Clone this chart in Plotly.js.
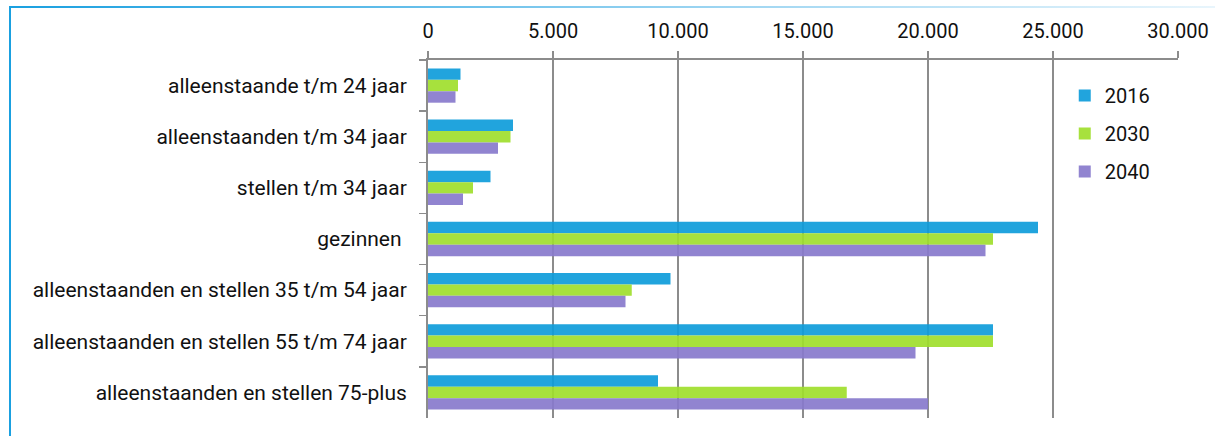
<!DOCTYPE html>
<html>
<head>
<meta charset="utf-8">
<script src="https://cdn.plot.ly/plotly-3.0.1.min.js"></script>
<style>
  html, body { margin: 0; padding: 0; background: #ffffff; }
  #wrap { position: relative; width: 1215px; height: 436px; overflow: hidden; background: #fff; }
  #frameLeft { position: absolute; left: 9px; top: 6px; width: 2px; height: 430px; background: #1aa0e0; }
  #frameTop { position: absolute; left: 9px; top: 6px; width: 1206px; height: 2px;
              background: linear-gradient(to right, #1aa0e0, #9fd6f2 60%, #e8f5fc); }
  #chart { position: absolute; left: 0; top: 0; width: 1215px; height: 436px; }
</style>
</head>
<body>
<div id="wrap">
  <div id="frameLeft"></div>
  <div id="frameTop"></div>
  <div id="chart"></div>
</div>
<script>
const categories = [
  'alleenstaande t/m 24 jaar',
  'alleenstaanden t/m 34 jaar',
  'stellen t/m 34 jaar',
  'gezinnen ',
  'alleenstaanden en stellen 35 t/m 54 jaar',
  'alleenstaanden en stellen 55 t/m 74 jaar',
  'alleenstaanden en stellen 75-plus'
];
const seriesNames = ['2016', '2030', '2040'];
const values2016 = [1300, 3400, 2500, 24400, 9700, 22600, 9200];
const values2030 = [1200, 3300, 1800, 22600, 8150, 22600, 16750];
const values2040 = [1100, 2800, 1400, 22300, 7900, 19500, 20000];
const xTicks = [0, 5000, 10000, 15000, 20000, 25000, 30000];

const colors = ['rgba(14,156,218,0.92)', 'rgba(160,222,44,0.92)', 'rgba(136,122,204,0.92)'];
const allValues = [values2016, values2030, values2040];

const FONT = 'Roboto, "Liberation Sans", Arial, sans-serif';

const traces = allValues.map((vals, i) => ({
  type: 'bar',
  orientation: 'h',
  name: seriesNames[i],
  legendgroup: 'g' + i,
  x: vals,
  y: categories,
  marker: { color: colors[i], line: { width: 0 } },
  hoverinfo: 'x+y+name'
}));

const layout = {
  width: 1215,
  height: 436,
  paper_bgcolor: 'rgba(0,0,0,0)',
  plot_bgcolor: 'rgba(0,0,0,0)',
  margin: { l: 428, r: 37, t: 60, b: 18, pad: 0 },
  separators: ',.',
  barmode: 'group',
  bargap: 0.33,
  bargroupgap: 0,
  font: { family: FONT, size: 19, color: '#111111' },
  showlegend: true,
  legend: {
    x: 0.849, xanchor: 'left',
    y: 0.955, yanchor: 'top',
    bgcolor: 'rgba(255,255,255,0)',
    borderwidth: 0,
    traceorder: 'grouped',
    tracegroupgap: 9,
    font: { family: FONT, size: 20, color: '#111111' }
  },
  xaxis: {
    side: 'top',
    range: [0, 30000],
    tickvals: xTicks,
    tickformat: ',d',
    showgrid: true,
    gridcolor: '#8c8c8c',
    gridwidth: 1.5,
    zeroline: false,
    showline: true,
    linecolor: '#8c8c8c',
    linewidth: 2,
    ticks: 'outside',
    ticklen: 7,
    tickwidth: 1.5,
    tickcolor: '#8c8c8c',
    ticklabelstandoff: 5,
    tickfont: { family: FONT, size: 20, color: '#111111' },
    fixedrange: true
  },
  yaxis: {
    autorange: 'reversed',
    type: 'category',
    showgrid: false,
    zeroline: false,
    showline: true,
    linecolor: '#8c8c8c',
    linewidth: 2,
    ticks: 'outside',
    tickson: 'boundaries',
    ticklen: 7,
    tickwidth: 1.5,
    tickcolor: '#8c8c8c',
    ticklabelstandoff: 15,
    tickfont: { family: FONT, size: 21, color: '#111111' },
    fixedrange: true
  }
};

Plotly.newPlot('chart', traces, layout, { displayModeBar: false, staticPlot: true });
</script>
</body>
</html>
